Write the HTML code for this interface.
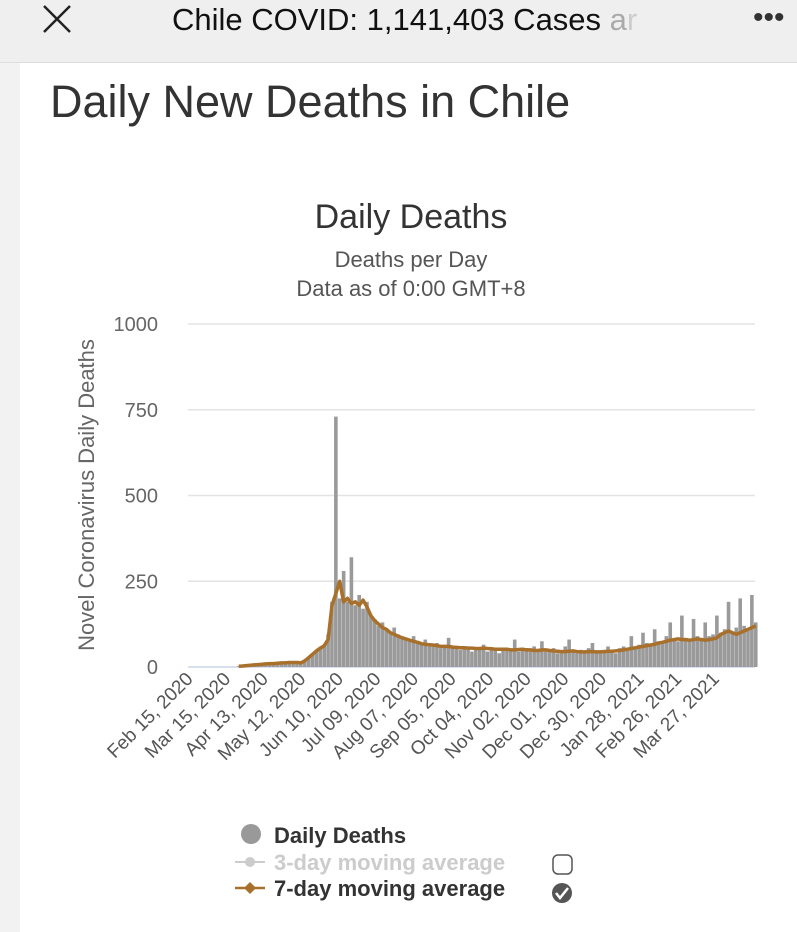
<!DOCTYPE html>
<html><head><meta charset="utf-8"><style>
body{margin:0;width:797px;height:932px;overflow:hidden;background:#fff;font-family:"Liberation Sans",sans-serif;position:relative}
.bar{position:absolute;left:0;top:0;width:797px;height:62px;background:#efefef;border-bottom:1px solid #ddd}
.strip{position:absolute;left:0;top:63px;width:20px;height:869px;background:#f2f2f2}
svg{position:absolute;left:0;top:0}
</style></head><body>
<div class="bar"></div>
<div class="strip"></div>
<svg id="c" width="797" height="932">
<g stroke="#222" stroke-width="2.5"><line x1="44" y1="6" x2="70" y2="32"/><line x1="70" y1="6" x2="44" y2="32"/></g>
<text x="172" y="30" font-size="31" fill="#111">Chile COVID: 1,141,403 Cases <tspan fill="#aaa">a</tspan><tspan fill="#ccc">r</tspan></text>
<text x="753" y="27" font-size="30" fill="#333">•••</text>
<text x="50" y="117" font-size="45" fill="#333">Daily New Deaths in Chile</text>
<text x="411" y="228" font-size="34" fill="#333" text-anchor="middle">Daily Deaths</text>
<text x="411" y="267" font-size="22" fill="#555" text-anchor="middle">Deaths per Day</text>
<text x="411" y="296" font-size="22" fill="#555" text-anchor="middle">Data as of 0:00 GMT+8</text>
<text transform="translate(94,495) rotate(-90)" font-size="22" fill="#666" text-anchor="middle">Novel Coronavirus Daily Deaths</text>
<g id="grid"></g><g id="bars"></g><g id="line"></g><g id="xl"></g>
<g>
<circle cx="251" cy="834" r="10" fill="#999"/>
<text x="274" y="843" font-size="22" font-weight="bold" fill="#333">Daily Deaths</text>
<line x1="235" y1="862" x2="265" y2="862" stroke="#ccc" stroke-width="2"/><circle cx="250" cy="862" r="5" fill="#ccc"/>
<text x="274" y="870" font-size="22" font-weight="bold" fill="#ccc">3-day moving average</text>
<rect x="553" y="855" width="19" height="19" rx="5" fill="#fff" stroke="#555" stroke-width="1.5"/>
<line x1="235" y1="888" x2="265" y2="888" stroke="#a8702a" stroke-width="2.5"/><path d="M250 882 L256 888 L250 894 L244 888Z" fill="#a8702a"/>
<text x="274" y="896" font-size="22" font-weight="bold" fill="#333">7-day moving average</text>
<circle cx="562" cy="893" r="10" fill="#555"/>
<path d="M556 893 L560 898 L568 888" stroke="#fff" stroke-width="2.5" fill="none"/>
</g>
</svg>
<script>
const startDay=36, step=3;
const dailyDeaths=[2,3,4,5,6,7,8,9,10,10,11,12,12,13,14,15,13,
20,28,38,48,55,62,95,
190,730,200,280,190,320,180,210,170,190,
150,140,120,130,110,100,115,95,90,85,80,90,75,
70,80,60,65,70,55,60,85,55,60,50,55,60,45,55,50,65,45,50,55,40,50,
55,50,80,45,50,55,45,60,50,75,45,50,55,40,45,60,80,45,40,50,45,55,70,40,45,50,60,45,40,55,
60,55,90,60,65,100,70,60,110,75,70,90,130,80,75,150,85,80,140,90,85,130,90,95,150,100,110,190,100,115,200,120,110,210,130];
const avg7=[2,3,4,5,6,7,8,9,10,10,11,12,12,13,13,13,12,
18,27,37,47,55,62,80,
180,215,250,190,200,185,190,180,195,175,
150,135,125,115,110,100,95,90,85,82,78,75,72,
68,66,65,64,62,60,60,60,58,57,56,56,55,55,54,54,55,54,53,52,52,52,
52,50,50,51,52,50,50,48,48,50,50,48,47,46,45,45,46,47,45,44,44,45,45,44,44,45,46,46,47,48,
50,52,54,56,58,60,62,64,66,70,72,75,78,80,82,80,80,78,80,82,80,78,80,82,85,95,100,105,100,95,100,105,110,115,120];
const yTicks=[0,250,500,750,1000];
const xLabels=["Feb 15, 2020","Mar 15, 2020","Apr 13, 2020","May 12, 2020","Jun 10, 2020","Jul 09, 2020","Aug 07, 2020","Sep 05, 2020","Oct 04, 2020","Nov 02, 2020","Dec 01, 2020","Dec 30, 2020","Jan 28, 2021","Feb 26, 2021","Mar 27, 2021"];
const NS="http://www.w3.org/2000/svg";
const X=d=>192+d*1.296, Y=v=>667-v*0.343;
function mk(t,a,p){const e=document.createElementNS(NS,t);for(const k in a)e.setAttribute(k,a[k]);document.getElementById(p).appendChild(e);return e;}
yTicks.forEach(v=>{
 const l=mk('line',{x1:188,x2:755,y1:Y(v),y2:Y(v),stroke:v?'#e3e3e3':'#ccd6eb','stroke-width':1.5},'grid');
 
 
 const t=mk('text',{x:158,y:Y(v)+7,'text-anchor':'end','font-size':20,fill:'#666'},'grid');t.textContent=v;
 
 
});
dailyDeaths.forEach((v,i)=>{
 const r=mk('rect',{x:X(startDay+i*step)-1.8,y:Y(v),width:3.6,height:667-Y(v),fill:'#9a9a9a'},'bars');
 
 
});
const p=mk('path',{d:avg7.map((v,i)=>(i?'L':'M')+X(startDay+i*step).toFixed(1)+' '+Y(v).toFixed(1)).join(''),fill:'none',stroke:'#a8702a','stroke-width':3.5,'stroke-linejoin':'round'},'line');


xLabels.forEach((s,i)=>{
 const x=X(i*29)+2;
 const t=mk('text',{transform:`translate(${x},680) rotate(-45)`,'text-anchor':'end','font-size':19,fill:'#555'},'xl');t.textContent=s;
 
 
});
</script>
</body></html>
